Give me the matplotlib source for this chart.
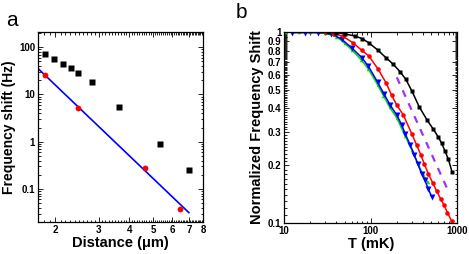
import matplotlib.pyplot as plt
import numpy as np
from matplotlib.ticker import FixedLocator, NullFormatter

plt.switch_backend("Agg")
plt.rcParams["font.family"] = ["Liberation Sans", "DejaVu Sans"]

# Panel a: frequency shift vs distance
dist_sq = [1.82, 1.98, 2.14, 2.31, 2.48, 2.82, 3.65, 5.33, 7.0]
shift_sq = [72, 57, 44, 36.5, 29, 18.3, 5.4, 0.89, 0.25]
dist_ci = [1.82, 2.48, 4.65, 6.47]
shift_ci = [26, 5.1, 0.28, 0.038]
fit_dist = [1.70, 7.0]
fit_shift = [35.5, 0.0316]
a_xticks = [2, 3, 4, 5, 6, 7, 8]
a_yticks = [0.1, 1, 10, 100]
a_ylabels = ["0.1", "1", "10", "100"]

# Panel b: normalized shift vs temperature
t_black = [32, 40, 50, 66, 80, 95, 120, 149, 182, 218, 255, 300, 364, 450,
           528, 600, 661, 721, 790, 870]
y_black = [1.0, 0.995, 0.98, 0.955, 0.925, 0.88, 0.808, 0.737, 0.679, 0.621,
           0.565, 0.49, 0.405, 0.345, 0.31, 0.283, 0.261, 0.238, 0.215, 0.185]
t_red = [30, 38, 48, 62, 78.5, 95, 122, 150, 175, 199, 238, 297, 340, 378,
         415, 462, 520, 580, 640, 700, 770, 860]
y_red = [1.0, 0.985, 0.952, 0.881, 0.805, 0.751, 0.639, 0.543, 0.466, 0.416,
         0.368, 0.294, 0.255, 0.228, 0.204, 0.181, 0.162, 0.146, 0.134, 0.124,
         0.113, 0.102]
t_blue = [12.2, 17.3, 24.3, 34.5, 46, 60, 78.5, 93.5, 120, 142, 167, 200,
          227, 250, 286, 318, 349, 388, 420, 464, 506]
y_blue = [0.995, 0.995, 0.995, 0.985, 0.92, 0.83, 0.737, 0.665, 0.547, 0.475,
          0.416, 0.368, 0.327, 0.294, 0.255, 0.228, 0.204, 0.181, 0.168, 0.150,
          0.137]
t_green = [10.5, 15, 20, 30, 40, 50, 60, 78, 93, 120, 140, 165, 200, 250,
           300, 350, 400, 455]
y_green = [1.0, 1.0, 1.0, 0.99, 0.95, 0.875, 0.81, 0.715, 0.645, 0.53, 0.465,
           0.405, 0.355, 0.285, 0.240, 0.205, 0.180, 0.163]
t_dash = [200, 760]
y_dash = [0.58, 0.152]
b_yticks = [0.1, 0.2, 0.3, 0.4, 0.5, 0.6, 0.7, 0.8, 0.9, 1.0]
b_ylabels = ["0.1", "0.2", "0.3", "0.4", "0.5", "0.6", "0.7", "0.8", "0.9", "1"]
b_xticks = [10, 100, 1000]

TICK_FS = 7
LABEL_FS = 10.5


def _style_axes(ax):
    for sp in ax.spines.values():
        sp.set_linewidth(0.9)
    ax.tick_params(which="both", direction="in", top=True, right=True,
                   width=0.6, labelsize=TICK_FS, pad=2)
    ax.tick_params(which="major", length=3.5)
    ax.tick_params(which="minor", length=1.8)
    for lab in ax.get_xticklabels() + ax.get_yticklabels():
        lab.set_fontweight("bold")


fig = plt.figure(figsize=(4.69, 2.54), dpi=100)

# ---- panel a
ax = fig.add_axes([0.081, 0.126, 0.352, 0.748])
ax.set_xscale("log")
ax.set_yscale("log")
ax.plot(fit_dist, fit_shift, color="#0000ff", lw=1.2, zorder=2)
ax.plot(dist_ci, shift_ci, "o", color="#ff0000", ms=4.2, mec="none", zorder=3)
ax.plot(dist_sq, shift_sq, "s", color="black", ms=4.2, mec="none", zorder=3)
ax.set_xlim(1.70, 8.0)
ax.set_ylim(0.02, 210)
ax.xaxis.set_major_locator(FixedLocator(a_xticks))
ax.set_xticklabels([str(v) for v in a_xticks])
ax.xaxis.set_minor_locator(FixedLocator(np.arange(1.7, 8.0, 0.1)))
ax.xaxis.set_minor_formatter(NullFormatter())
ax.yaxis.set_major_locator(FixedLocator(a_yticks))
ax.set_yticklabels(a_ylabels)
ax.yaxis.set_minor_locator(FixedLocator(
    [m * d for d in [0.01, 0.1, 1, 10, 100] for m in range(2, 10)]))
ax.yaxis.set_minor_formatter(NullFormatter())
_style_axes(ax)
ax.set_xlabel("Distance (μm)", fontsize=LABEL_FS, fontweight="bold", labelpad=1)
ax.set_ylabel("Frequency shift (Hz)", fontsize=10, fontweight="bold",
              labelpad=2)
fig.text(0.012, 0.918, "a", fontsize=15, ha="left", va="center")

# ---- panel b
bx = fig.add_axes([0.606, 0.123, 0.369, 0.750])
bx.set_xscale("log")
bx.set_yscale("log")
bx.plot(t_green, y_green, "-^", color="#00dd00", lw=1.1, ms=2.5, mec="none")
bx.plot(t_blue, y_blue, "-v", color="#0000ff", lw=1.1, ms=3.8, mec="none")
bx.plot(t_red, y_red, "-o", color="#ff0000", lw=1.1, ms=3.3, mec="none")
bx.plot(t_black, y_black, "-s", color="black", lw=1.1, ms=3.0, mec="none")
bx.plot(t_dash, y_dash, color="#9933ff", lw=1.6, dashes=(3.2, 3.2))
bx.set_xlim(10, 1000)
bx.set_ylim(0.1, 1.0)
bx.xaxis.set_major_locator(FixedLocator(b_xticks))
bx.set_xticklabels([str(v) for v in b_xticks])
bx.xaxis.set_minor_locator(FixedLocator(
    [m * d for d in [10, 100] for m in range(2, 10)]))
bx.xaxis.set_minor_formatter(NullFormatter())
bx.yaxis.set_major_locator(FixedLocator(b_yticks))
bx.set_yticklabels(b_ylabels)
bx.yaxis.set_minor_locator(FixedLocator(np.arange(0.11, 1.0, 0.01)))
bx.yaxis.set_minor_formatter(NullFormatter())
_style_axes(bx)
bx.set_xlabel("T (mK)", fontsize=LABEL_FS, fontweight="bold", labelpad=1)
bx.set_ylabel("Normalized Frequency Shift", fontsize=LABEL_FS,
              fontweight="bold", labelpad=3)
fig.text(0.502, 0.95, "b", fontsize=15, ha="left", va="center")

fig.savefig("out.png", dpi=100)
plt.close(fig)
